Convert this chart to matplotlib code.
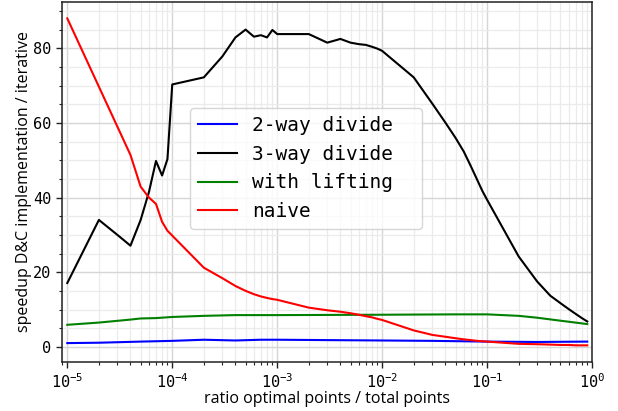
import numpy as np
import matplotlib
matplotlib.use("Agg")
import matplotlib.pyplot as plt
from matplotlib.ticker import AutoMinorLocator

# ratio grid: k * 10^n for k = 1..9, n = -5..-1
ratios = [k * 10.0**n for n in range(-5, 0) for k in range(1, 10)]

three_way = [17.1, 34.0, 30.0, 27.1, 34.0, 41.5, 49.8, 45.9, 50.3,
             70.3, 72.2, 77.8, 82.9, 85.0, 83.1, 83.5, 82.9, 84.9,
             83.8, 83.8, 81.5, 82.5, 81.5, 81.1, 80.9, 80.4, 79.9,
             79.3, 72.2, 65.2, 60.1, 56.0, 52.3, 48.4, 44.9, 41.8,
             39.4, 24.2, 17.5, 13.7, 11.7, 10.1, 8.8, 7.7, 6.8]

naive = [88.0, 69.7, 59.0, 51.4, 42.9, 40.0, 38.3, 33.5, 31.1,
         29.8, 21.2, 18.4, 16.3, 15.0, 14.1, 13.5, 13.1, 12.8,
         12.6, 10.5, 9.8, 9.4, 9.0, 8.6, 8.2, 7.9, 7.5,
         7.2, 4.4, 3.2, 2.7, 2.3, 2.0, 1.8, 1.6, 1.5,
         1.4, 0.8, 0.7, 0.6, 0.5, 0.5, 0.4, 0.4, 0.4]

two_way_x = [1e-5, 2e-5, 5e-5, 1e-4, 2e-4, 4e-4, 7e-4, 1e-3, 3e-3,
             1e-2, 3e-2, 1e-1, 3e-1, 9e-1]
two_way = [1.0, 1.1, 1.4, 1.6, 1.9, 1.7, 1.9, 1.9, 1.8,
           1.7, 1.6, 1.4, 1.3, 1.4]

lifting_x = [1e-5, 2e-5, 4e-5, 5e-5, 7e-5, 1e-4, 2e-4, 4e-4, 1e-3,
             1e-2, 5e-2, 1e-1, 2e-1, 3e-1, 5e-1, 9e-1]
lifting = [5.9, 6.5, 7.3, 7.6, 7.7, 8.0, 8.3, 8.5, 8.5,
           8.6, 8.7, 8.7, 8.3, 7.8, 7.0, 6.1]

plt.rcParams['font.family'] = ['DejaVu Sans Mono']

fig = plt.figure(figsize=(6.18, 4.11), dpi=100)
ax = fig.add_axes([0.1003, 0.12, 0.8577, 0.875])

ax.plot(two_way_x, two_way, color='blue', lw=1.5, label='2-way divide')
ax.plot(ratios, three_way, color='black', lw=1.5, label='3-way divide')
ax.plot(lifting_x, lifting, color='green', lw=1.5, label='with lifting')
ax.plot(ratios, naive, color='red', lw=1.5, label='naive')

ax.set_xscale('log')
ax.set_xlim(8.9e-6, 1.0)
ax.yaxis.set_minor_locator(AutoMinorLocator(4))

ax.grid(which='major', color='#d6d6d6', lw=1.0)
ax.grid(which='minor', color='#ebebeb', lw=0.9)
ax.set_axisbelow(True)

for s in ax.spines.values():
    s.set_color('#222222')
    s.set_linewidth(1.1)
ax.tick_params(which='major', length=4, width=1, color='#222222', labelsize=11)
ax.tick_params(which='minor', length=2.5, width=0.8, color='#222222')

ax.set_xlabel('ratio optimal points / total points', family='Open Sans',
              fontsize=11.5, labelpad=0)
ax.set_ylabel('speedup D&C implementation / iterative', family='Open Sans',
              fontsize=11.5, labelpad=1)

ax.legend(loc='upper left', bbox_to_anchor=(0.2415, 0.3, 0.4377, 0.405),
          mode='expand', borderaxespad=0, fontsize=14, labelspacing=0.5,
          frameon=True, framealpha=0.8, edgecolor='#cccccc', fancybox=True)

fig.savefig('out.png', dpi=100)
